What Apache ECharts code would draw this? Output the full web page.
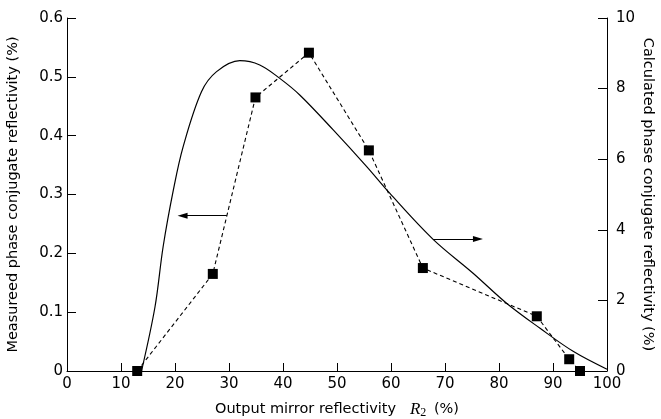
<!DOCTYPE html>
<html>
<head>
<meta charset="utf-8">
<title>Phase conjugate reflectivity</title>
<script src="https://cdn.jsdelivr.net/npm/echarts@6/dist/echarts.min.js"></script>
<style>
  html, body { margin: 0; padding: 0; background: #fff; }
  #container { width: 661px; height: 419px; }
</style>
</head>
<body>
<div id="container"></div>
<script>
// measured points (left axis, %)
var measX = [13, 27, 34.9, 44.8, 55.9, 65.9, 87, 93, 95];
var measY = [0, 0.165, 0.465, 0.541, 0.375, 0.175, 0.093, 0.02, 0];

// calculated curve (right axis, %)
var calcX = [13.8, 16.3, 17.8, 19.7, 21.5, 24.9, 27.7, 32, 35.7, 39.4, 43.1, 49.3, 55.5, 59.8, 67.8, 75.2, 81.4, 87.6, 93.8, 100];
var calcY = [0, 1.82, 3.52, 5.13, 6.35, 7.91, 8.48, 8.79, 8.67, 8.29, 7.82, 6.83, 5.79, 5.03, 3.73, 2.77, 1.92, 1.21, 0.55, 0.05];

// arrows telling which axis belongs to which series
var leftArrow = [[29.6, 0.264], [21.4, 0.264]];
var rightArrow = [[67.8, 3.74], [76.1, 3.74]];

function zip(xs, ys) {
  var out = [];
  for (var i = 0; i < xs.length; i++) out.push([xs[i], ys[i]]);
  return out;
}

var font = 'DejaVu Sans';
var myChart = echarts.init(document.getElementById('container'));

var option = {
  animation: false,
  textStyle: { fontFamily: font, color: '#000' },
  grid: { left: 67, right: 54, top: 18, bottom: 48, outerBoundsMode: 'none', containLabel: false },
  xAxis: {
    type: 'value',
    min: 0, max: 100, interval: 10,
    name: 'Output mirror reflectivity   {i|R}{s|2} (%)',
    nameLocation: 'middle',
    nameGap: 29,
    nameTextStyle: {
      fontSize: 14.5, color: '#000', fontFamily: font,
      rich: {
        i: { fontFamily: 'Liberation Serif', fontStyle: 'italic', fontSize: 17, color: '#000' },
        s: { fontFamily: 'Liberation Serif', fontSize: 12, color: '#000', padding: [7, 3, 0, 0] }
      }
    },
    axisLine: { lineStyle: { color: '#000', width: 1 } },
    axisTick: { inside: true, length: 8, lineStyle: { color: '#000' } },
    axisLabel: { fontSize: 15, color: '#000', margin: 6, fontFamily: font },
    splitLine: { show: false }
  },
  yAxis: [
    {
      type: 'value',
      min: 0, max: 0.6, interval: 0.1,
      name: 'Measureed phase conjugate reflectivity (%)',
      nameLocation: 'middle',
      nameGap: 46,
      nameTextStyle: { fontSize: 14.5, color: '#000', fontFamily: font },
      axisLine: { show: true, lineStyle: { color: '#000', width: 1 } },
      axisTick: { show: true, inside: true, length: 9, lineStyle: { color: '#000' } },
      axisLabel: { fontSize: 15, color: '#000', margin: 4, fontFamily: font },
      splitLine: { show: false }
    },
    {
      type: 'value',
      position: 'right',
      min: 0, max: 10, interval: 2,
      name: 'Calculated phase conjugate reflectivity (%)',
      nameLocation: 'middle',
      nameRotate: -90,
      nameGap: 33,
      nameMoveOverlap: false,
      nameTextStyle: { fontSize: 14.5, color: '#000', fontFamily: font },
      axisLine: { show: true, lineStyle: { color: '#000', width: 1 } },
      axisTick: { show: true, inside: true, length: 9, lineStyle: { color: '#000' } },
      axisLabel: { fontSize: 15, color: '#000', margin: 9, fontFamily: font },
      splitLine: { show: false }
    }
  ],
  series: [
    {
      name: 'calculated',
      type: 'line',
      yAxisIndex: 1,
      data: zip(calcX, calcY),
      smooth: 0.35,
      showSymbol: false,
      lineStyle: { color: '#000', width: 1.2 },
      markLine: {
        silent: true,
        symbol: ['none', 'triangle'],
        symbolSize: [6, 10],
        label: { show: false },
        lineStyle: { color: '#000', width: 1, type: 'solid' },
        itemStyle: { color: '#000' },
        data: [[{ coord: rightArrow[0] }, { coord: rightArrow[1] }]]
      }
    },
    {
      name: 'measured',
      type: 'line',
      yAxisIndex: 0,
      data: zip(measX, measY),
      symbol: 'rect',
      symbolSize: 10,
      itemStyle: { color: '#000' },
      lineStyle: { color: '#000', width: 1.1, type: [4, 3] },
      markLine: {
        silent: true,
        symbol: ['none', 'triangle'],
        symbolSize: [6, 10],
        label: { show: false },
        lineStyle: { color: '#000', width: 1, type: 'solid' },
        itemStyle: { color: '#000' },
        data: [[{ coord: leftArrow[0] }, { coord: leftArrow[1] }]]
      }
    }
  ]
};
myChart.setOption(option);
</script>
</body>
</html>
